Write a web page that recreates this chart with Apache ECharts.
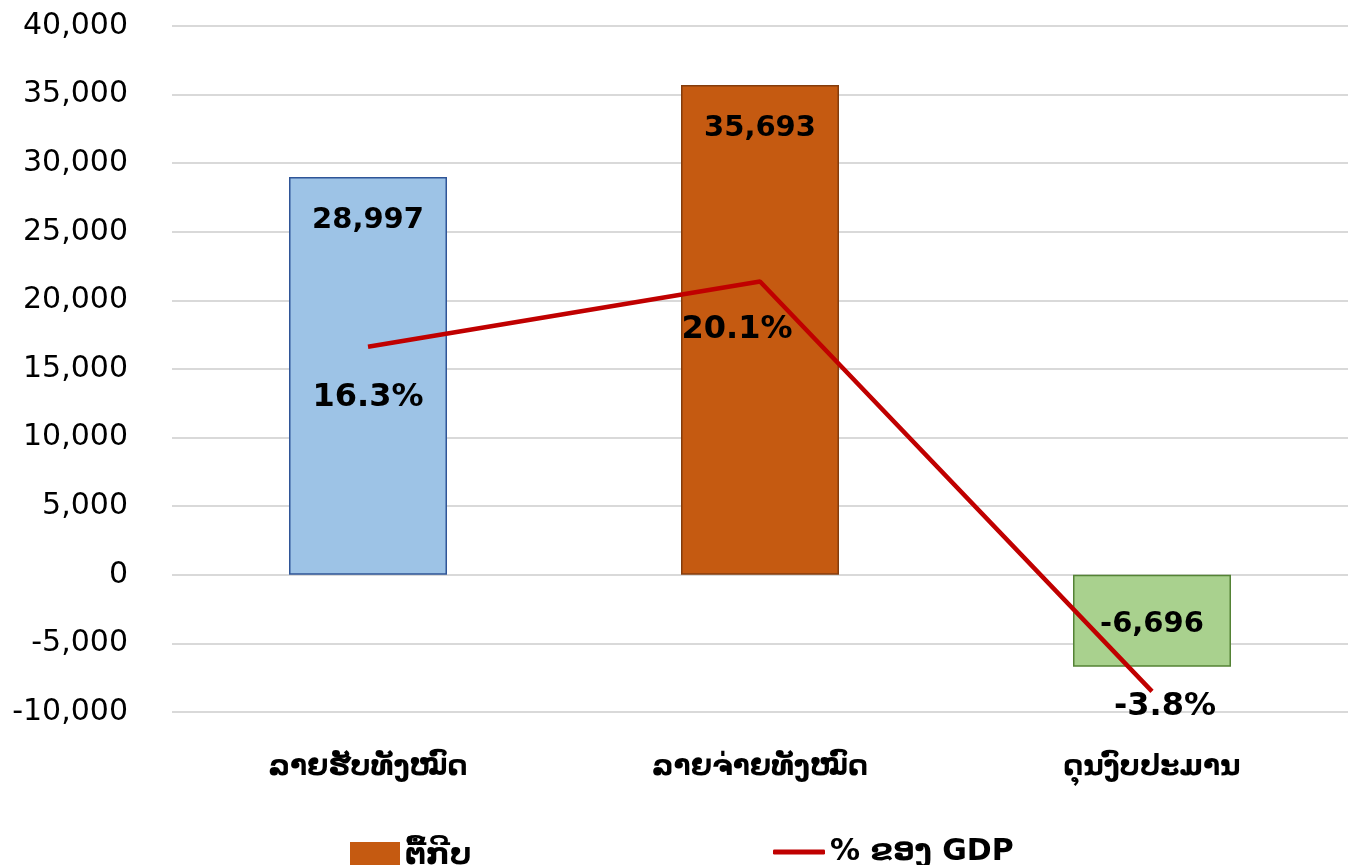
<!DOCTYPE html>
<html>
<head>
<meta charset="utf-8">
<script src="https://cdn.jsdelivr.net/npm/echarts@6/dist/echarts.min.js"></script>
<style>
  html, body { margin: 0; padding: 0; background: #fff; }
  #chart { width: 1348px; height: 865px; }
</style>
</head>
<body>
<div id="chart"></div>
<script>
// categories and values
var categories = ["ລາຍຮັບທັງໝົດ", "ລາຍຈ່າຍທັງໝົດ", "ດຸນງົບປະມານ"];
var amounts = [28997, 35693, -6696];      // ຕື້ກີບ
var gdpShare = [16.3, 20.1, -3.8];        // % ຂອງ GDP
var barColors = ["#9DC3E6", "#C55A11", "#A9D18E"];
var barBorders = ["#2F5597", "#843C0C", "#548235"];

var FONT = "DejaVu Sans";

var chart = echarts.init(document.getElementById("chart"));

var barData = amounts.map(function (v, i) {
  return {
    value: v,
    itemStyle: { color: barColors[i], borderColor: barBorders[i], borderWidth: 1.5 },
    label: v < 0 ? { position: "inside", offset: [0, 4] } : { position: "insideTop", distance: 29 }
  };
});

// label offsets for the line points
var lineOffsets = [[0, 0], [-23, -3], [13, -36]];
var lineData = gdpShare.map(function (v, i) {
  return { value: v, label: { offset: lineOffsets[i] } };
});

chart.setOption({
  animation: false,
  grid: { left: 172, width: 1182, top: 26, bottom: 153 },
  legend: [
    {
      data: ["ຕື້ກີບ"],
      left: 345,
      top: 836,
      itemWidth: 50,
      itemHeight: 28,
      itemGap: 6,
      icon: "rect",
      textStyle: { fontFamily: FONT, fontSize: 30, fontWeight: "bold", color: "#000" }
    },
    {
      data: ["% ຂອງ GDP"],
      left: 768,
      top: 832,
      itemWidth: 52,
      itemHeight: 5,
      itemGap: 6,
      icon: "roundRect",
      textStyle: { fontFamily: FONT, fontSize: 30, fontWeight: "bold", color: "#000" }
    }
  ],
  xAxis: {
    type: "category",
    data: categories,
    axisLine: { show: false },
    axisTick: { show: false },
    axisLabel: {
      margin: 42,
      fontFamily: FONT,
      fontSize: 28,
      fontWeight: "bold",
      color: "#000"
    }
  },
  yAxis: [
    {
      type: "value",
      min: -10000,
      max: 40000,
      interval: 5000,
      axisLine: { show: false },
      axisTick: { show: false },
      splitLine: { lineStyle: { color: "#d9d9d9", width: 2 } },
      axisLabel: {
        margin: 44,
        fontFamily: FONT,
        fontSize: 30,
        color: "#000",
        formatter: function (v) { return v.toLocaleString("en-US"); }
      }
    },
    {
      type: "value",
      min: -5,
      max: 35,
      show: false,
      splitLine: { show: false }
    }
  ],
  series: [
    {
      name: "ຕື້ກີບ",
      type: "bar",
      barWidth: 158,
      itemStyle: { color: "#C55A11" },
      label: {
        show: true,
        fontFamily: FONT,
        fontSize: 29,
        fontWeight: "bold",
        color: "#000",
        formatter: function (p) { return p.value.toLocaleString("en-US"); }
      },
      data: barData
    },
    {
      name: "% ຂອງ GDP",
      type: "line",
      yAxisIndex: 1,
      symbol: "circle",
      symbolSize: 0.1,
      showAllSymbol: true,
      lineStyle: { color: "#C00000", width: 4.5 },
      itemStyle: { color: "#C00000" },
      label: {
        show: true,
        position: "bottom",
        distance: 35,
        fontFamily: FONT,
        fontSize: 32,
        fontWeight: "bold",
        color: "#000",
        formatter: function (p) { return p.value.toFixed(1) + "%"; }
      },
      data: lineData
    }
  ]
});
</script>
</body>
</html>
